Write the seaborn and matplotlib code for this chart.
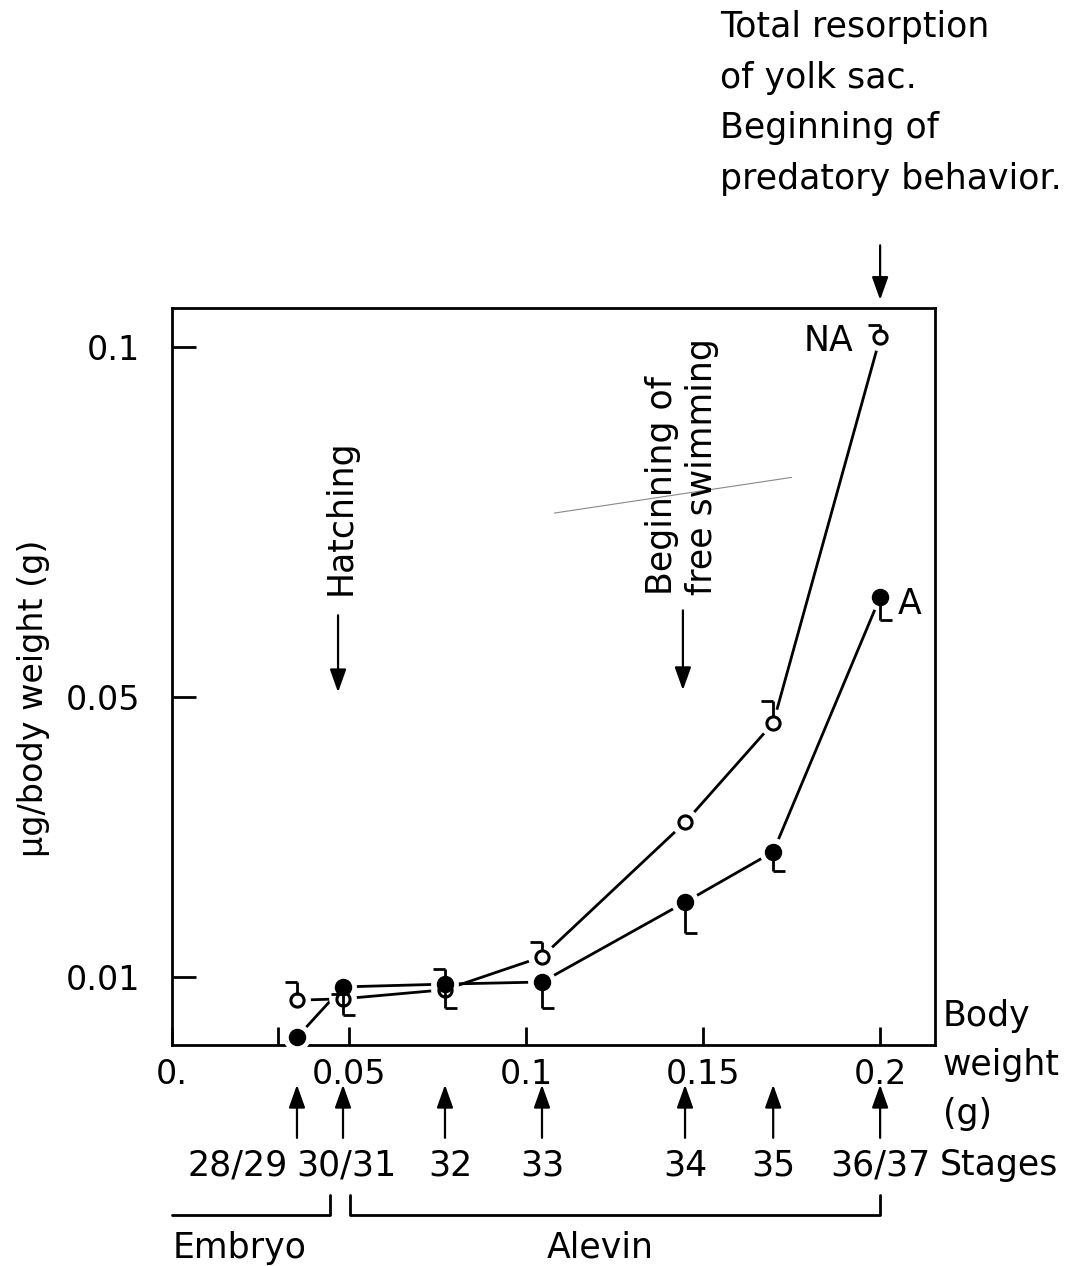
import numpy as np
import pandas as pd
import matplotlib
matplotlib.use('Agg')
import matplotlib.pyplot as plt
from matplotlib.patches import ArrowStyle
import seaborn as sns

# Data
stage_labels = ['28/29', '30/31', '32', '33', '34', '35', '36/37']
body_weight = [0.0353, 0.0483, 0.0771, 0.1045, 0.1449, 0.1698, 0.2000]
na_values = [0.0067, 0.0069, 0.0082, 0.0129, 0.0321, 0.0463, 0.1014]
a_values = [0.0014, 0.0086, 0.0090, 0.0093, 0.0207, 0.0279, 0.0643]
na_err = [0.0026, 0.0007, 0.0029, 0.0021, 0.0, 0.0031, 0.0017]
a_err = [0.0, 0.0040, 0.0034, 0.0037, 0.0044, 0.0027, 0.0033]

# events marked above the curves (x in g)
hatching_x = 0.0469
swimming_x = 0.1443
resorption_x = 0.2000
embryo_range = (0.0, 0.0446)
alevin_range = (0.0503, 0.2000)

df = pd.DataFrame({'bw': body_weight, 'NA': na_values, 'A': a_values,
                   'na_err': na_err, 'a_err': a_err})

sns.set_style('white')
plt.rcParams['font.family'] = ['DejaVu Sans']
plt.rcParams['text.color'] = 'black'
plt.rcParams['axes.labelcolor'] = 'black'
plt.rcParams['xtick.color'] = 'black'
plt.rcParams['ytick.color'] = 'black'

FS = 25

fig = plt.figure(figsize=(10.75, 12.66), dpi=100)
ax = fig.add_axes([172 / 1075, 1 - 1045 / 1266, 763 / 1075, 737 / 1266])

# curves
sns.lineplot(ax=ax, data=df, x='bw', y='NA', color='black', lw=2, zorder=2)
sns.lineplot(ax=ax, data=df, x='bw', y='A', color='black', lw=2, zorder=2)

# white halo around markers (gap between line and point)
sns.scatterplot(ax=ax, data=df, x='bw', y='NA', s=400, color='white',
                edgecolor='none', zorder=3, clip_on=False)
sns.scatterplot(ax=ax, data=df, x='bw', y='A', s=400, color='white',
                edgecolor='none', zorder=3, clip_on=False)
sns.scatterplot(ax=ax, data=df, x='bw', y='NA', s=90, color='white',
                edgecolor='black', linewidth=2.2, zorder=4, clip_on=False)
sns.scatterplot(ax=ax, data=df, x='bw', y='A', s=135, color='black',
                edgecolor='black', zorder=4, clip_on=False)

# half error bars with one-sided caps
cap = 0.0034
for x, y, e in zip(body_weight, na_values, na_err):
    if e > 0:
        ax.vlines(x, y + 0.0008, y + e, color='black', lw=2, zorder=5)
        ax.hlines(y + e, x - cap, x, color='black', lw=2, zorder=5)
for x, y, e in zip(body_weight, a_values, a_err):
    if e > 0:
        ax.vlines(x, y - e, y - 0.0008, color='black', lw=2, zorder=5)
        ax.hlines(y - e, x, x + cap, color='black', lw=2, zorder=5)

ax.set_xlim(0, 0.2155)
ax.set_ylim(0.0003, 0.1056)
ax.set_xticks([0, 0.03, 0.05, 0.1, 0.15, 0.2])
ax.set_xticklabels(['0.', '', '0.05', '0.1', '0.15', '0.2'])
ax.set_yticks([0.01, 0.05, 0.1])
ax.set_yticklabels(['0.01', '0.05', '0.1'])
ax.tick_params(axis='y', direction='in', length=17, width=2, pad=23,
               labelsize=FS - 1, left=True)
ax.tick_params(axis='x', direction='in', length=13, width=2, pad=9,
               labelsize=FS - 1, bottom=True)
for s in ax.spines.values():
    s.set_linewidth(2)
    s.set_color('black')

ax.set_xlabel('')
ax.set_ylabel('µg/body weight (g)', fontsize=24)
ax.yaxis.set_label_coords(-0.16, 0.47)

# series labels
ax.text(0.1924, 0.1009, 'NA', fontsize=FS, ha='right', va='center')
ax.text(0.2051, 0.0633, 'A', fontsize=FS, ha='left', va='center')

arrow = ArrowStyle('-|>', head_length=0.7, head_width=0.25)
aprops = dict(arrowstyle=arrow, color='black', lw=1.6, mutation_scale=20,
              shrinkA=0, shrinkB=0)

# Hatching
ax.text(hatching_x + 0.0006, 0.0646, 'Hatching', rotation=90, fontsize=FS,
        ha='center', va='bottom')
ax.annotate('', xy=(hatching_x, 0.0507), xytext=(hatching_x, 0.0617),
            arrowprops=aprops)

# Beginning of free swimming
ax.text(swimming_x - 0.0003, 0.0646, 'Beginning of\nfree swimming', rotation=90,
        fontsize=FS, ha='center', va='bottom', multialignment='left',
        linespacing=1.2)
ax.annotate('', xy=(swimming_x, 0.0510), xytext=(swimming_x, 0.0624),
            arrowprops=aprops)

# pencil stroke on the scan
ax.plot([0.108, 0.175], [0.0763, 0.0814], color='#888888', lw=0.8, zorder=1)

# top annotation
xt = ax.get_xaxis_transform()
ax.annotate('', xy=(resorption_x, 1.011), xytext=(resorption_x, 1.085),
            xycoords=xt, textcoords=xt, arrowprops=aprops, annotation_clip=False)
fig.text(720 / 1075, 1 - 10 / 1266,
         'Total resorption\nof yolk sac.\nBeginning of\npredatory behavior.',
         fontsize=FS, ha='left', va='top', linespacing=1.62)

# axis caption on the right
ax.text(1.0105, 0.062, 'Body\nweight\n(g)', transform=ax.transAxes,
        fontsize=FS, ha='left', va='top', linespacing=1.55)

# stage arrows and labels
for i, (x, lab) in enumerate(zip(body_weight, stage_labels)):
    ax.annotate('', xy=(x, -0.054), xytext=(x, -0.126), xycoords=xt,
                textcoords=xt, arrowprops=aprops, annotation_clip=False)
    ha = 'right' if i == 0 else 'center'
    xx = x - 0.0025 if i == 0 else x
    if i == 1:
        xx = x + 0.001
    if i == 2:
        xx = x + 0.0015
    ax.text(xx, -0.163, lab, transform=xt, fontsize=FS, ha=ha, va='center')
ax.text(1.0065, -0.163, 'Stages', transform=ax.transAxes, fontsize=FS,
        ha='left', va='center')

# Embryo / Alevin brackets
yb, yu = -0.2307, -0.2035
ax.plot([embryo_range[0], embryo_range[1], embryo_range[1]], [yb, yb, yu],
        transform=xt, color='black', lw=2, clip_on=False)
ax.plot([alevin_range[0], alevin_range[0], alevin_range[1], alevin_range[1]],
        [yu, yb, yb, yu], transform=xt, color='black', lw=2, clip_on=False)
ax.text(0.0192, -0.2754, 'Embryo', transform=xt, fontsize=FS, ha='center', va='center')
ax.text(0.1209, -0.2754, 'Alevin', transform=xt, fontsize=FS, ha='center', va='center')

plt.savefig('out.png', dpi=100)
